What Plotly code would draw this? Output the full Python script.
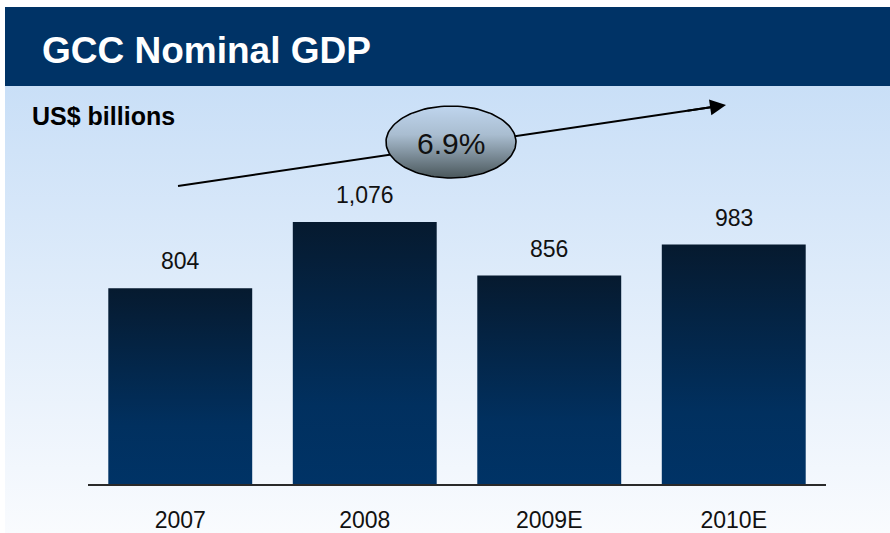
import numpy as np
import plotly.graph_objects as go

# Data
categories = ["2007", "2008", "2009E", "2010E"]
gdp_usd_bn = [804, 1076, 856, 983]
growth_label = "6.9%"
title_text = "GCC Nominal GDP"
unit_text = "US$ billions"

W, H = 890, 533
FONT = "Liberation Sans, Arial, sans-serif"
NAVY = "#003366"

fig = go.Figure()

# ---- decorative layer in pixel coordinates (x/y axes) ----
# body gradient panel
fig.add_trace(go.Scatter(
    x=[5, W, W, 5, 5], y=[86, 86, H, H, 86],
    mode="lines", line=dict(width=0), fill="toself",
    fillgradient=dict(type="vertical", start=86, stop=H,
                      colorscale=[[0, "#c9dff7"], [1, "#f9fbfe"]]),
    hoverinfo="skip", showlegend=False, xaxis="x", yaxis="y",
))

# trend line (drawn beneath the bubble)
ax0, ay0, ax1, ay1 = 178, 186, 726, 105
fig.add_trace(go.Scatter(
    x=[ax0, ax1 - 10], y=[ay0, ay1 + 10 * (ay0 - ay1) / (ax1 - ax0)],
    mode="lines", line=dict(color="#000000", width=2),
    hoverinfo="skip", showlegend=False, xaxis="x", yaxis="y",
))

# growth bubble (ellipse)
t = np.linspace(0, 2 * np.pi, 121)
cx, cy, rx, ry = 451, 142, 65, 36
fig.add_trace(go.Scatter(
    x=cx + rx * np.cos(t), y=cy + ry * np.sin(t),
    mode="lines", line=dict(color="#000000", width=1.6), fill="toself",
    fillgradient=dict(type="vertical", start=cy - ry, stop=cy + ry,
                      colorscale=[[0, "#bfd5ee"], [0.4, "#a9bdd0"], [1, "#4a575b"]]),
    hoverinfo="skip", showlegend=False, xaxis="x", yaxis="y",
))

# ---- bars on the data axes (x2/y2) ----
bar_w = 0.78
for i, v in enumerate(gdp_usd_bn):
    x0, x1 = i - bar_w / 2, i + bar_w / 2
    fig.add_trace(go.Scatter(
        x=[x0, x0, x1, x1, x0], y=[0, v, v, 0, 0],
        mode="lines", line=dict(width=0), fill="toself",
        fillgradient=dict(type="vertical",
                          colorscale=[[0, NAVY], [0.3, "#01305f"], [1, "#061a2f"]]),
        hoverinfo="skip", showlegend=False, xaxis="x2", yaxis="y2",
    ))

annotations = []
for i, v in enumerate(gdp_usd_bn):
    annotations.append(dict(
        x=i, y=v, xref="x2", yref="y2", text=f"{v:,}", showarrow=False,
        yanchor="middle", yshift=27,
        font=dict(family=FONT, size=23, color="#111111"),
    ))

# title and unit
annotations.append(dict(
    x=40, y=50, xref="x", yref="y", text=f"<b>{title_text}</b>", showarrow=False,
    xanchor="left", yanchor="middle", font=dict(family=FONT, size=37, color="#ffffff"),
))
annotations.append(dict(
    x=30, y=116, xref="x", yref="y", text=f"<b>{unit_text}</b>", showarrow=False,
    xanchor="left", yanchor="middle", font=dict(family=FONT, size=25, color="#000000"),
))

# arrow head at the end of the trend line
annotations.append(dict(
    x=ax1, y=ay1, ax=ax1 - 40, ay=ay1 + 40 * (ay0 - ay1) / (ax1 - ax0),
    xref="x", yref="y", axref="x", ayref="y",
    text="", showarrow=True, arrowhead=2, arrowsize=1.6, arrowwidth=2,
    arrowcolor="#000000",
))
# growth rate text
annotations.append(dict(
    x=cx, y=cy + 1, xref="x", yref="y", text=growth_label, showarrow=False,
    xanchor="center", yanchor="middle", font=dict(family=FONT, size=30, color="#111111"),
))

fig.update_layout(
    width=W, height=H,
    margin=dict(l=0, r=0, t=0, b=0),
    paper_bgcolor="#ffffff",
    plot_bgcolor="rgba(0,0,0,0)",
    showlegend=False,
    shapes=[dict(type="rect", xref="x", yref="y", x0=5, x1=W, y0=7, y1=86,
                 fillcolor=NAVY, line=dict(width=0), layer="below")],
    annotations=annotations,
    xaxis=dict(domain=[0, 1], range=[0, W], visible=False, fixedrange=True),
    yaxis=dict(domain=[0, 1], range=[H, 0], visible=False, fixedrange=True),
    xaxis2=dict(
        domain=[88 / W, 826 / W], range=[-0.5, 3.5], anchor="y2",
        tickmode="array", tickvals=list(range(len(categories))), ticktext=categories,
        showgrid=False, zeroline=False, showline=True, linecolor="#2a2a2a", linewidth=2,
        ticks="", ticklabelstandoff=14,
        tickfont=dict(family=FONT, size=23, color="#111111"), fixedrange=True,
    ),
    yaxis2=dict(
        domain=[1 - 484 / H, 1 - 143 / H], range=[0, 1400], anchor="x2",
        visible=False, showgrid=False, zeroline=False, fixedrange=True,
    ),
)

fig.write_html("out.html")
